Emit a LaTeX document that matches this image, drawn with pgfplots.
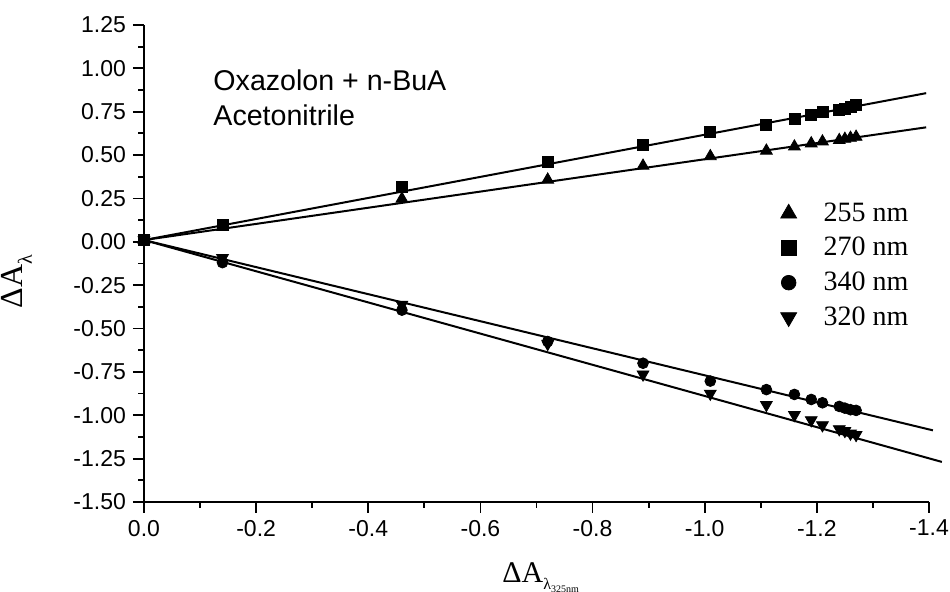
\documentclass[border=0pt]{standalone}
\usepackage{fontspec}
\setmainfont{Liberation Sans}
\newfontfamily\serif{Liberation Serif}
\usepackage{pgfplots}
\pgfplotsset{compat=1.18}

\begin{document}
\begin{tikzpicture}
\begin{axis}[
  name=ax, at={(0,0)}, anchor=south west,
  scale only axis, width=392.5pt, height=238.5pt,
  x dir=reverse,
  xmin=-1.4, xmax=0, ymin=-1.5, ymax=1.25,
  axis x line*=bottom, axis y line*=left,
  axis line style={line width=1pt},
  xtick={-1.4,-1.2,-1.0,-0.8,-0.6,-0.4,-0.2,0},
  ytick={-1.5,-1.25,-1,-0.75,-0.5,-0.25,0,0.25,0.5,0.75,1,1.25},
  minor x tick num=1, minor y tick num=1,
  tick align=outside,
  major tick length=5.5pt, minor tick length=2.8pt,
  every tick/.style={black, line width=0.9pt},
  xticklabel style={/pgf/number format/.cd, fixed, fixed zerofill, precision=1},
  yticklabel style={/pgf/number format/.cd, fixed, fixed zerofill, precision=2},
  /pgf/number format/assume math mode=true,
  ticklabel style={font=\fontsize{11.5}{11.5}\selectfont},
  clip=false,
  legend style={at={(0.803,0.645)}, anchor=north west, draw=none, fill=none,
    font=\serif\fontsize{14}{14}\selectfont, row sep=2.5pt},
  legend cell align=left,
  legend image code/.code={
    \path[draw=none, fill=none] (0pt,0pt) rectangle (15.5pt,0pt);
    \draw[#1, /tikz/every mark/.append style={scale=1.35}] plot coordinates {(0pt,0pt)};
  },
]
% fitted lines
\addplot[black, line width=1pt, forget plot] coordinates {(0,0.01) (-1.395,0.66)};
\addplot[black, line width=1pt, forget plot] coordinates {(0,0.01) (-1.395,0.857)};
\addplot[black, line width=1pt, forget plot] coordinates {(0,0.01) (-1.407,-1.087)};
\addplot[black, line width=1pt, forget plot] coordinates {(0,0.01) (-1.423,-1.269)};
% 255 nm
\addplot[only marks, mark=triangle*, mark size=3.4pt, black] coordinates {
(0,0.01) (-0.14,0.085) (-0.46,0.248) (-0.72,0.358) (-0.89,0.438) (-1.01,0.493)
(-1.11,0.525) (-1.16,0.549) (-1.19,0.567) (-1.21,0.578) (-1.24,0.586)
(-1.25,0.593) (-1.26,0.599) (-1.27,0.605)};
\addlegendentry{255 nm}
% 270 nm
\addplot[only marks, mark=square*, mark size=2.75pt, black] coordinates {
(0,0.01) (-0.14,0.10) (-0.46,0.317) (-0.72,0.461) (-0.89,0.556) (-1.01,0.633)
(-1.11,0.675) (-1.16,0.71) (-1.19,0.733) (-1.21,0.748) (-1.24,0.761)
(-1.25,0.769) (-1.26,0.78) (-1.27,0.789)};
\addlegendentry{270 nm}
% 340 nm
\addplot[only marks, mark=*, mark size=2.7pt, black] coordinates {
(0,0.01) (-0.14,-0.12) (-0.46,-0.394) (-0.72,-0.575) (-0.89,-0.70) (-1.01,-0.803)
(-1.11,-0.852) (-1.16,-0.88) (-1.19,-0.909) (-1.21,-0.928) (-1.24,-0.949)
(-1.25,-0.959) (-1.26,-0.968) (-1.27,-0.972)};
\addlegendentry{340 nm}
% 320 nm
\addplot[only marks, mark=triangle*, mark size=3.4pt, mark options={rotate=180}, black] coordinates {
(0,0.01) (-0.14,-0.093) (-0.46,-0.362) (-0.72,-0.588) (-0.89,-0.764) (-1.01,-0.875)
(-1.11,-0.94) (-1.16,-0.998) (-1.19,-1.028) (-1.21,-1.057) (-1.24,-1.08)
(-1.25,-1.09) (-1.26,-1.105) (-1.27,-1.113)};
\addlegendentry{320 nm}

\node[anchor=base west, inner sep=0pt, font=\fontsize{14.3}{14.3}\selectfont] at (rel axis cs:0.088,0.862) {Oxazolon + n-BuA};
\node[anchor=base west, inner sep=0pt, font=\fontsize{14.3}{14.3}\selectfont] at (rel axis cs:0.088,0.790) {Acetonitrile};

\node[anchor=base west, font=\serif\fontsize{15}{15}\selectfont, inner sep=0pt] at (rel axis cs:0.456,-0.168)
  {ΔA\raisebox{-0.25em}{\fontsize{8}{8}\selectfont λ\raisebox{-0.15em}{\fontsize{5}{5}\selectfont 325nm}}};
\node[anchor=base, rotate=90, font=\serif\fontsize{16}{16}\selectfont, inner sep=0pt] at (rel axis cs:-0.155,0.462)
  {ΔA\raisebox{-0.3em}{\fontsize{10}{10}\selectfont λ}};
\end{axis}
\pgfresetboundingbox
\path (-72pt,-45pt) rectangle (403pt,251pt);
\end{tikzpicture}
\end{document}
